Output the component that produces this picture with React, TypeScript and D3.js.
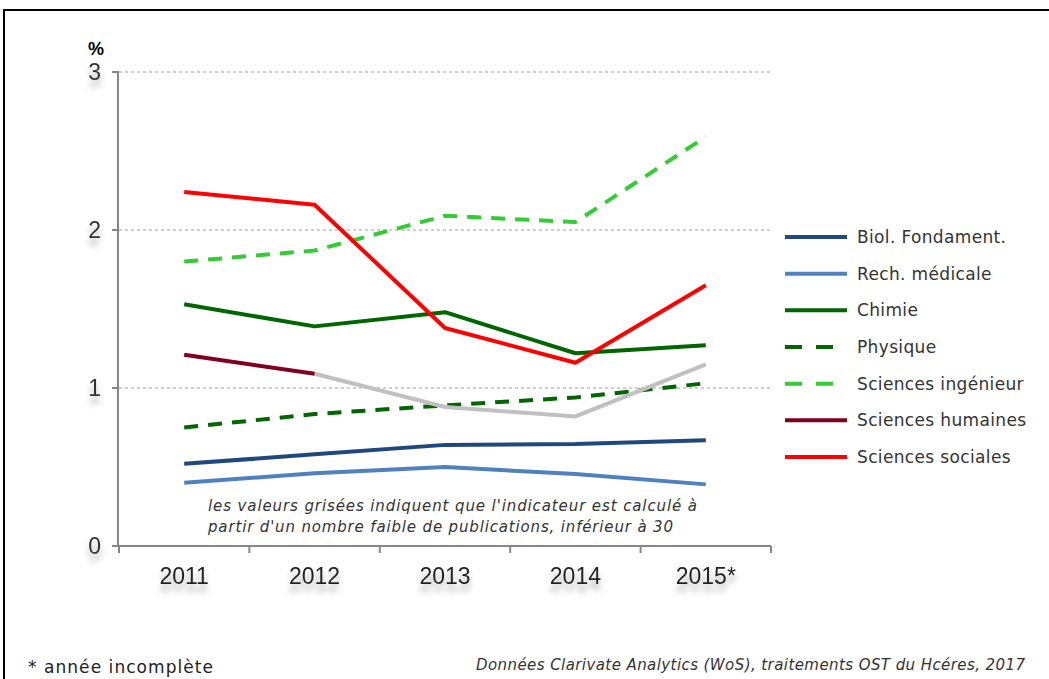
import React from 'react';
import * as d3 from 'd3'

const years = ['2011', '2012', '2013', '2014', '2015*']
const yTicks = [0, 1, 2, 3]

const biolFondament = [0.52, 0.58, 0.64, 0.645, 0.67]
const rechMedicale = [0.40, 0.46, 0.50, 0.455, 0.39]
const chimie = [1.53, 1.39, 1.48, 1.22, 1.27]
const physique = [0.75, 0.835, 0.89, 0.94, 1.03]
const sciencesIngenieur = [1.80, 1.87, 2.09, 2.05, 2.59]
const sciencesHumaines = [1.21, 1.09, 0.88, 0.82, 1.15]
const sciencesSociales = [2.24, 2.16, 1.38, 1.16, 1.65]

// index from which sciences humaines is greyed (low publication count)
const humainesGreyFrom = 1

type Serie = { name: string, values: number[], color: string, dash?: string }

const series: Serie[] = [
  { name: 'Biol. Fondament.', values: biolFondament, color: '#1f497d' },
  { name: 'Rech. médicale', values: rechMedicale, color: '#4f81bd' },
  { name: 'Chimie', values: chimie, color: '#006600' },
  { name: 'Physique', values: physique, color: '#006600', dash: '14 10' },
  { name: 'Sciences ingénieur', values: sciencesIngenieur, color: '#33cc33', dash: '14 10' },
  { name: 'Sciences humaines', values: sciencesHumaines, color: '#800020' },
  { name: 'Sciences sociales', values: sciencesSociales, color: '#ff0000' },
]

const font = "'Liberation Sans Narrow', 'Liberation Sans', sans-serif"
const textFont = "'DejaVu Sans', sans-serif"

const App: React.FC = () => {
  const left = 119, right = 771, top = 72, bottom = 546

  const x = d3.scaleBand<string>().domain(years).range([left, right])
  const y = d3.scaleLinear().domain([0, 3]).range([bottom, top])
  const cx = (i: number) => (x(years[i]) as number) + x.bandwidth() / 2

  const line = d3.line<[number, number]>()
    .x(d => cx(d[0]))
    .y(d => y(d[1]))

  const pts = (vals: number[]) => vals.map((v, i) => [i, v] as [number, number])

  const legendY = d3.scaleLinear().domain([0, 6]).range([237, 457])

  return (
    <svg width={1049} height={679} style={{ position: 'absolute', left: 0, top: 0, background: '#fff' }}>
      <defs>
        <filter id="shadow" x="-50%" y="-50%" width="200%" height="250%">
          <feDropShadow dx="0" dy="7" stdDeviation="3" floodColor="#888" floodOpacity="0.7" />
        </filter>
      </defs>
      <rect x={4} y={10} width={1100} height={700} fill="none" stroke="#000" strokeWidth={2} />

      {/* grid */}
      {yTicks.filter(t => t > 0).map(t => (
        <line key={t} x1={left} x2={773} y1={y(t)} y2={y(t)} stroke="#a0a0a0" strokeWidth={1} strokeDasharray="3 3" />
      ))}

      {/* axes */}
      <line x1={left - 1} x2={left - 1} y1={top} y2={bottom} stroke="#868686" strokeWidth={2} />
      {yTicks.map(t => (
        <line key={t} x1={left - 7} x2={left} y1={y(t)} y2={y(t)} stroke="#868686" strokeWidth={2} />
      ))}
      <line x1={left - 7} x2={right} y1={bottom} y2={bottom} stroke="#868686" strokeWidth={2} />
      {[...years.map(yr => x(yr) as number), right].map((p, i) => (
        <line key={i} x1={p} x2={p} y1={bottom} y2={bottom + 7} stroke="#868686" strokeWidth={2} />
      ))}

      {yTicks.map(t => (
        <text key={t} x={101} y={y(t) + 8} textAnchor="end" fontFamily={font} fontSize={23}
          fill="#333" filter="url(#shadow)">{t}</text>
      ))}
      <text x={96} y={55} textAnchor="middle" fontFamily="'Liberation Sans', sans-serif" fontWeight="bold" fontSize={18} fill="#000">%</text>

      {years.map((yr, i) => (
        <text key={yr} x={cx(i)} y={584} textAnchor="middle" fontFamily={font} fontSize={23}
          fill="#222" filter="url(#shadow)">{yr}</text>
      ))}

      {/* series */}
      {series.map(s => {
        if (s.values === sciencesHumaines) {
          return (
            <g key={s.name}>
              <path d={line(pts(s.values).slice(humainesGreyFrom)) as string} fill="none" stroke="#c0c0c0" strokeWidth={4} />
              <path d={line(pts(s.values).slice(0, humainesGreyFrom + 1)) as string} fill="none" stroke={s.color} strokeWidth={4} />
            </g>
          )
        }
        return (
          <path key={s.name} d={line(pts(s.values)) as string} fill="none" stroke={s.color} strokeWidth={4}
            strokeDasharray={s.dash} strokeLinejoin="round" />
        )
      })}

      {/* legend */}
      {series.map((s, i) => (
        <g key={s.name}>
          <line x1={785} x2={847} y1={legendY(i)} y2={legendY(i)} stroke={s.color} strokeWidth={4}
            strokeDasharray={s.dash ? '17 14' : undefined} />
          <text x={857} y={legendY(i) + 6} fontFamily={textFont} fontSize={17} letterSpacing={0.35} fill="#333">{s.name}</text>
        </g>
      ))}

      <text x={208} y={511} fontFamily={textFont} fontStyle="italic" fontSize={15} fill="#333"
        textLength={489} lengthAdjust="spacing">
        les valeurs grisées indiquent que l'indicateur est calculé à
      </text>
      <text x={208} y={532} fontFamily={textFont} fontStyle="italic" fontSize={15} fill="#333"
        textLength={465} lengthAdjust="spacing">
        partir d'un  nombre faible de publications, inférieur à 30
      </text>

      <text x={28} y={673} fontFamily={textFont} fontSize={17} fill="#222"
        textLength={185} lengthAdjust="spacing">* année incomplète</text>
      <text x={476} y={670} fontFamily={textFont} fontStyle="italic" fontSize={15} fill="#333"
        textLength={549} lengthAdjust="spacing">
        Données Clarivate Analytics (WoS), traitements OST du Hcéres, 2017
      </text>
    </svg>
  )
}

export default App
